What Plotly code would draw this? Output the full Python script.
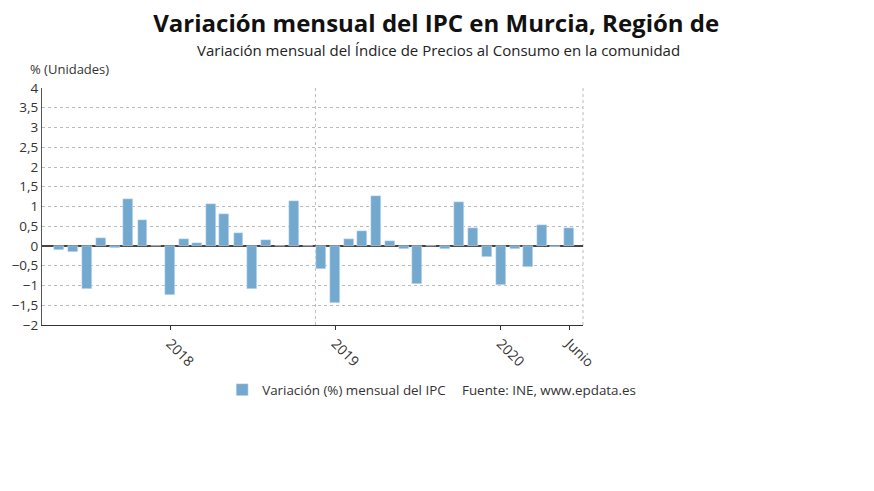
import plotly.graph_objects as go
import pandas as pd

months = pd.date_range("2017-05-01", "2020-06-01", freq="MS").strftime("%Y-%m-%d").tolist()
values = [-0.1, -0.15, -1.1, 0.2, -0.05, 1.2, 0.67, 0.0,
          -1.25, 0.18, 0.07, 1.07, 0.8, 0.33, -1.08, 0.15, 0.0, 1.13, 0.0, -0.58,
          -1.45, 0.17, 0.38, 1.27, 0.12, -0.07, -0.97, 0.0, -0.08, 1.12, 0.45, -0.27,
          -0.98, -0.07, -0.53, 0.52, -0.02, 0.45]
tick_vals = ["2018-01-01", "2019-01-01", "2020-01-01", "2020-06-01"]
tick_text = ["2018", "2019", "2020", "Junio"]
y_ticks = [-2, -1.5, -1, -0.5, 0, 0.5, 1, 1.5, 2, 2.5, 3, 3.5, 4]

fig = go.Figure()
fig.add_trace(go.Bar(x=months, y=values, width=22*86400000, marker_color="#74a9cf",
                     name="Variación (%) mensual del IPC"))
fig.update_layout(
    width=874, height=491, paper_bgcolor="white", plot_bgcolor="white",
    margin=dict(l=34, r=299, t=80, b=174, autoexpand=False),
    separators=",.",
    font=dict(family="Open Sans", color="#333", size=12),
    title=dict(text="<b>Variación mensual del IPC en Murcia, Región de</b>", x=0.49, xanchor="center",
               xref="container", y=1 - 16/491, yref="container", yanchor="middle",
               font=dict(size=24, color="#111")),
    showlegend=True,
    legend=dict(orientation="h", x=0.333, y=-0.274, xanchor="left", yanchor="middle",
                font=dict(size=13.4), itemwidth=30),
    bargap=0,
)
fig.add_annotation(text="Variación mensual del Índice de Precios al Consumo en la comunidad",
                   xref="paper", yref="paper", x=0.5, y=1.0, yshift=38, yanchor="middle",
                   showarrow=False, font=dict(size=15, color="#222"), xanchor="left",
                   xshift=(195 - 42) - 271)
fig.add_annotation(text="% (Unidades)", xref="paper", yref="paper", x=0, y=1.0, yshift=19,
                   xshift=-14, showarrow=False, xanchor="left", yanchor="middle",
                   font=dict(size=13))
fig.add_annotation(text="Fuente: INE, www.epdata.es", xref="paper", yref="paper",
                   x=0.773, y=-0.274, showarrow=False, xanchor="left", yanchor="middle",
                   font=dict(size=13.4))
fig.update_xaxes(type="date", range=["2017-03-24", "2020-07-01"], tickvals=tick_vals,
                 ticktext=tick_text, tickangle=45, showgrid=False, ticks="outside",
                 ticklen=4, tickcolor="#333", showline=True, linecolor="#333",
                 tickfont=dict(size=14), automargin=False)
fig.update_yaxes(range=[-2, 4], tickvals=y_ticks, showgrid=True, gridcolor="#bbb",
                 griddash="dot", zeroline=True, zerolinecolor="#444", zerolinewidth=1.5,
                 showline=True, linecolor="#555", tickfont=dict(size=13.5), automargin=False)
fig.add_shape(type="line", xref="x", yref="paper", x0="2018-11-18", x1="2018-11-18", y0=0, y1=1,
              line=dict(color="#bbb", width=1, dash="dot"), layer="below")
fig.add_shape(type="line", xref="paper", yref="paper", x0=1, x1=1, y0=0, y1=1,
              line=dict(color="#bbb", width=1, dash="dot"), layer="below")
fig.write_html("out.html")
